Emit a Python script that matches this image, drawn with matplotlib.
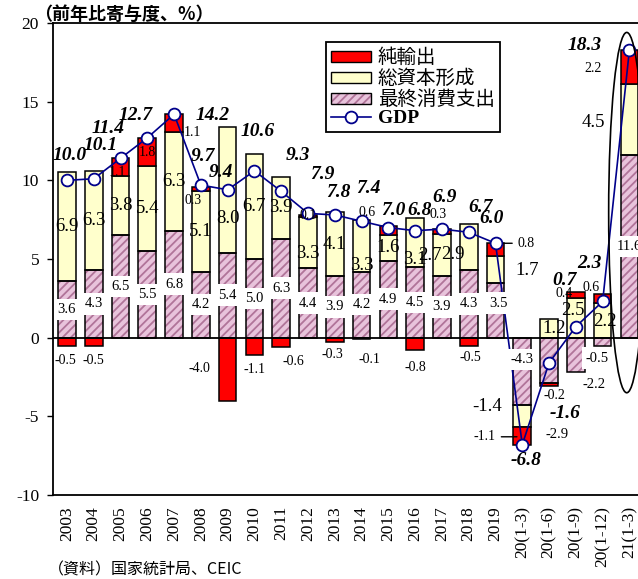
import numpy as np
import matplotlib
matplotlib.use('Agg')
import matplotlib.pyplot as plt
from matplotlib.patches import Patch, Ellipse
from matplotlib.lines import Line2D
from matplotlib.legend_handler import HandlerTuple

plt.rcParams['font.family'] = ['Liberation Serif', 'Noto Sans CJK JP', 'DejaVu Sans']
plt.rcParams['hatch.linewidth'] = 1.3

# data (contribution to real GDP growth, percentage points)
categories = ['2003', '2004', '2005', '2006', '2007', '2008', '2009', '2010', '2011',
              '2012', '2013', '2014', '2015', '2016', '2017', '2018', '2019',
              '20(1-3)', '20(1-6)', '20(1-9)', '20(1-12)', '21(1-3)']
consumption = [3.6, 4.3, 6.5, 5.5, 6.8, 4.2, 5.4, 5.0, 6.3, 4.4, 3.9, 4.2, 4.9, 4.5, 3.9, 4.3, 3.5,
               -4.3, -2.9, -2.2, -0.5, 11.6]
capital = [6.9, 6.3, 3.8, 5.4, 6.3, 5.1, 8.0, 6.7, 3.9, 3.3, 4.1, 3.3, 1.6, 3.1, 2.7, 2.9, 1.7,
           -1.4, 1.2, 2.5, 2.2, 4.5]
net_exports = [-0.5, -0.5, 1.1, 1.8, 1.1, 0.3, -4.0, -1.1, -0.6, 0.1, -0.3, -0.1, 0.6, -0.8, 0.3, -0.5, 0.8,
               -1.1, -0.2, 0.4, 0.6, 2.2]
gdp = [10.0, 10.1, 11.4, 12.7, 14.2, 9.7, 9.4, 10.6, 9.3, 7.9, 7.8, 7.4, 7.0, 6.8, 6.9, 6.7, 6.0,
       -6.8, -1.6, 0.7, 2.3, 18.3]

# label placement tweaks (x, y offsets in data units)
gdp_dx = [0.1, 0.24, -0.46, -0.45, 1.43, 0.09, -0.27, 0.12, 0.61, 0.55, 0.15, 0.27, 0.17, 0.15, 0.08,
          0.43, -0.15, 0.15, 0.58, -0.42, -0.49, -1.67]
gdp_dy = [1.6, 2.1, 1.9, 1.4, -0.1, 1.8, 1.1, 2.5, 2.3, 2.5, 1.45, 2.1, 1.1, 1.3, 2.0, 1.6, 1.55,
          -1.0, -3.2, 2.95, 2.4, 0.3]
cons_shift = {16: (0.1, 0.45), 17: (0, 0.75), 18: (0.3, -4.7), 19: (0.66, -1.85), 20: (-0.19, -1.05)}
cap_shift = {6: (0, -1.85), 9: (0, -0.7), 11: (0, -1.25), 13: (0, -1.1), 14: (-0.45, 0),
             15: (-0.6, -0.45), 16: (1.2, -0.05), 17: (-1.3, 0.63), 18: (0.2, 0), 19: (-0.1, 0.5),
             20: (0.07, -0.1), 21: (-1.34, -0.15)}
nx_shift = {0: (-0.07, 0), 2: (-0.1, -0.35), 4: (0.68, -0.6), 5: (-0.3, -0.75), 6: (-1.06, 3.0),
            8: (0.46, 0.05), 10: (-0.1, 0.15), 11: (0.3, -0.35), 12: (-0.8, 1.15), 13: (0, -0.15),
            14: (-0.13, 1.05), 15: (0.05, 0.2), 16: (1.15, 0.4), 17: (-1.4, 1.45), 18: (0.2, 0.35),
            19: (-0.45, 0.1), 20: (-0.45, 0.7), 21: (-1.34, -0.1)}
nx_leader = {16: 16.3, 17: 16.8}

pink = '#E8C3DB'
hatch_col = '#B07499'
yellow = '#FFFFCC'
red = '#FF0000'
navy = '#00008B'

x = np.arange(len(categories))
w = 0.66

fig = plt.figure(figsize=(6.38, 5.79), dpi=100)
ax = fig.add_axes([53 / 638, 84 / 579, 585 / 638, 472 / 579])

# stack positives up and negatives down
pos_base = np.zeros(len(x))
neg_base = np.zeros(len(x))
seg = {}
for key, vals in [('c', consumption), ('k', capital), ('nx', net_exports)]:
    v = np.array(vals)
    bottom = np.where(v >= 0, pos_base, neg_base)
    seg[key] = (bottom, v)
    pos_base = pos_base + np.where(v > 0, v, 0)
    neg_base = neg_base + np.where(v < 0, v, 0)

b, v = seg['c']
ax.bar(x, v, w, bottom=b, color=pink, edgecolor=hatch_col, hatch='////', linewidth=0, zorder=2)
ax.bar(x, v, w, bottom=b, fill=False, edgecolor='black', linewidth=1.1, zorder=2.1)
b, v = seg['k']
ax.bar(x, v, w, bottom=b, color=yellow, edgecolor='black', linewidth=1.1, zorder=2)
b, v = seg['nx']
ax.bar(x, v, w, bottom=b, color=red, edgecolor='black', linewidth=1.1, zorder=2)

ax.axhline(0, color='black', linewidth=1.3, zorder=3)

ax.plot(x, gdp, color=navy, linewidth=1.2, marker='o', markersize=8.5,
        markerfacecolor='white', markeredgecolor=navy, markeredgewidth=1.3, zorder=4)

# labels
for i in x:
    b, v = seg['c']
    dx, dy = cons_shift.get(i, (0, 0))
    ax.text(i + dx, b[i] + v[i] / 2 + dy, f'{v[i]:.1f}', ha='center', va='center', fontsize=10.5,
            zorder=5, bbox=dict(facecolor='white', edgecolor='none', pad=3))

    b, v = seg['k']
    dx, dy = cap_shift.get(i, (0, 0))
    ax.text(i + dx, b[i] + v[i] / 2 + dy, f'{v[i]:.1f}', ha='center', va='center', fontsize=13.5, zorder=5)

    b, v = seg['nx']
    dx, dy = nx_shift.get(i, (0, 0))
    if v[i] >= 0:
        ly = b[i] + v[i] / 2 + dy
    else:
        ly = b[i] + v[i] - 0.95 + dy
    if i in nx_leader:
        ax.annotate(f'{v[i]:.1f}', xy=(nx_leader[i], ly), xytext=(i + dx, ly), ha='center', va='center',
                    fontsize=10, zorder=5,
                    arrowprops=dict(arrowstyle='-', color='black', lw=1.0, shrinkA=2, shrinkB=0))
    else:
        ax.text(i + dx, ly, f'{v[i]:.1f}', ha='center', va='center', fontsize=10, zorder=5)

    ax.text(i + gdp_dx[i], gdp[i] + gdp_dy[i], f'{gdp[i]:.1f}', ha='center', va='center',
            fontsize=14, fontweight='bold', fontstyle='italic', zorder=5)

# ellipse around the latest quarter
ax.add_patch(Ellipse((20.9, 7.95), 1.35, 22.9, fill=False, edgecolor='black', linewidth=1.2, zorder=6))

ax.set_xlim(-0.52, 21.32)
ax.set_ylim(-10, 20)
ax.set_yticks(range(-10, 21, 5))
ax.set_yticklabels([str(t) for t in range(-10, 21, 5)], fontsize=12.5)
ax.set_xticks(x)
ax.set_xticklabels(categories, rotation=90, fontsize=12.5)
ax.tick_params(axis='x', length=0, pad=8)
ax.tick_params(axis='y', direction='out', length=4, width=1, pad=6)
ax.spines['right'].set_visible(False)
for s in ['left', 'top', 'bottom']:
    ax.spines[s].set_linewidth(1.3)

handles = [Patch(facecolor=red, edgecolor='black', linewidth=1.0),
           Patch(facecolor=yellow, edgecolor='black', linewidth=1.0),
           (Patch(facecolor=pink, edgecolor=hatch_col, hatch='////', linewidth=0),
            Patch(fill=False, edgecolor='black', linewidth=1.0)),
           Line2D([], [], color=navy, linewidth=1.2, marker='o', markersize=8.5,
                  markerfacecolor='white', markeredgecolor=navy, markeredgewidth=1.3)]
labels = ['純輸出', '総資本形成', '最終消費支出', 'GDP']
leg = ax.legend(handles, labels, loc='upper left', bbox_to_anchor=(0.467, 0.959), borderaxespad=0,
                handler_map={tuple: HandlerTuple(ndivide=1, pad=0)},
                prop={'family': ['Noto Sans CJK JP'], 'size': 14},
                handlelength=2.05, handleheight=0.45, labelspacing=0.0, borderpad=0.25,
                handletextpad=0.35, fancybox=False, framealpha=1, edgecolor='black')
leg.get_frame().set_linewidth(1.3)
leg.get_texts()[3].set_family(['Liberation Serif'])
leg.get_texts()[3].set_fontweight('bold')
leg.set_zorder(7)

fig.text(34 / 638, 1 - 14 / 579, '（前年比寄与度、%）', fontsize=13, fontweight='bold',
         family=['Noto Sans CJK JP'], ha='left', va='center')
fig.text(48 / 638, 9 / 579, '（資料）国家統計局、CEIC', fontsize=11.5,
         family=['Noto Sans CJK JP'], ha='left', va='center')

fig.savefig('out.png', dpi=100)
